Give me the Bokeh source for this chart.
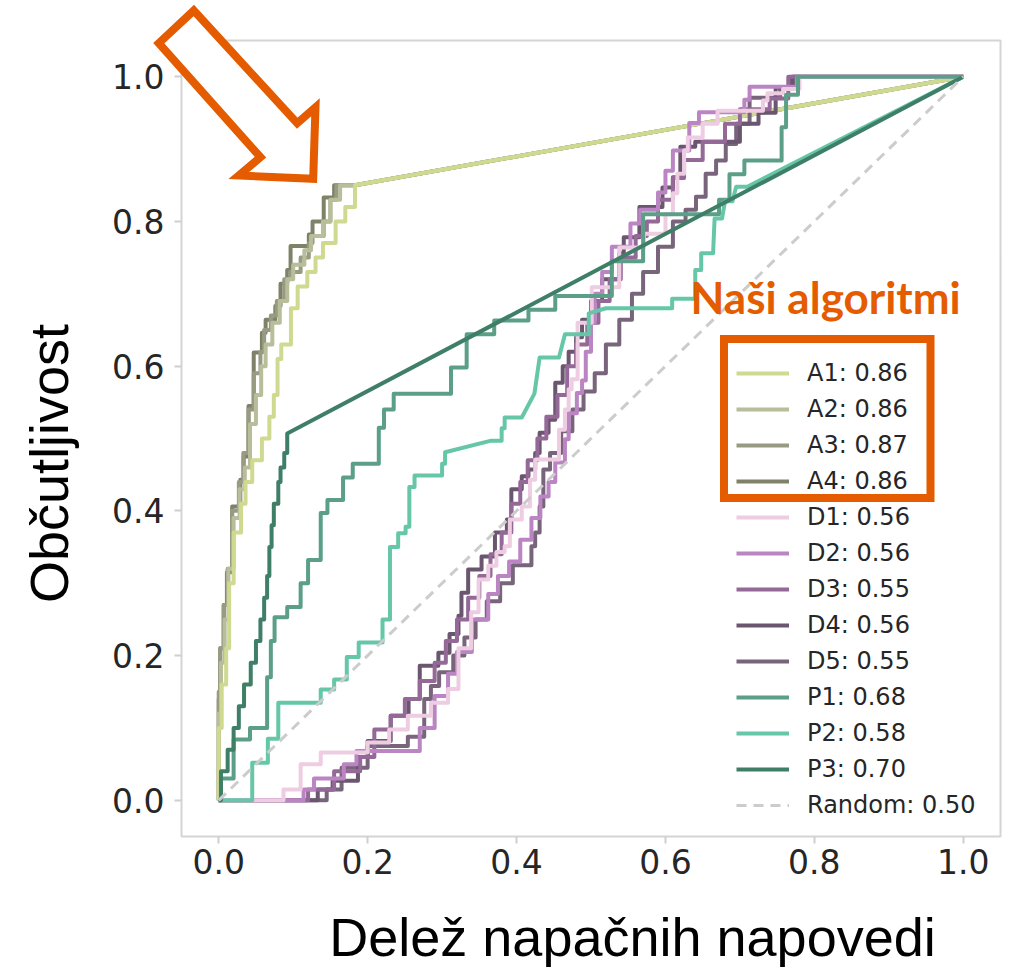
import math
from bokeh.plotting import figure
from bokeh.models import (Range1d, FixedTicker, PrintfTickFormatter, Legend, LegendItem,
                          Label, PolyAnnotation, BoxAnnotation)
from bokeh.embed import file_html
from bokeh.resources import INLINE

# ---------------- data: ROC step curves (x = step position, y = level reached) -------------
A1_x = [0.000, 0.004, 0.010, 0.014, 0.020, 0.030, 0.036, 0.045, 0.058, 0.068, 0.074, 0.079, 0.084, 0.097, 0.106, 0.119, 0.130, 0.140, 0.157, 0.170, 0.183]
A1_y = [0.100, 0.160, 0.210, 0.300, 0.370, 0.410, 0.440, 0.470, 0.500, 0.530, 0.560, 0.610, 0.630, 0.680, 0.710, 0.730, 0.750, 0.770, 0.800, 0.820, 0.850]
A2_x = [0.000, 0.003, 0.008, 0.013, 0.020, 0.028, 0.035, 0.042, 0.050, 0.057, 0.063, 0.072, 0.082, 0.092, 0.100, 0.115, 0.124, 0.140, 0.150, 0.163]
A2_y = [0.120, 0.190, 0.250, 0.320, 0.390, 0.430, 0.460, 0.520, 0.560, 0.600, 0.630, 0.660, 0.690, 0.720, 0.740, 0.760, 0.780, 0.800, 0.830, 0.850]
A3_x = [0.000, 0.002, 0.007, 0.012, 0.018, 0.027, 0.033, 0.040, 0.047, 0.056, 0.061, 0.070, 0.078, 0.088, 0.096, 0.110, 0.121, 0.126, 0.141, 0.150, 0.158]
A3_y = [0.150, 0.210, 0.270, 0.320, 0.400, 0.440, 0.480, 0.540, 0.590, 0.620, 0.650, 0.670, 0.690, 0.720, 0.730, 0.750, 0.770, 0.780, 0.800, 0.830, 0.850]
A4_x = [0.000, 0.002, 0.0065, 0.011, 0.018, 0.029, 0.0335, 0.040, 0.047, 0.058, 0.063, 0.076, 0.083, 0.092, 0.0965, 0.121, 0.126, 0.141, 0.155]
A4_y = [0.140, 0.210, 0.270, 0.315, 0.406, 0.443, 0.475, 0.545, 0.619, 0.646, 0.664, 0.683, 0.714, 0.733, 0.766, 0.782, 0.800, 0.833, 0.850]
A_end_x = [0.183, 1.0]
A_end_y = [0.850, 1.0]

D1_x = [0.087, 0.110, 0.137, 0.200, 0.229, 0.254, 0.285, 0.308, 0.322, 0.339, 0.349, 0.362, 0.373, 0.384, 0.391, 0.407, 0.418, 0.425, 0.457, 0.465, 0.470, 0.474, 0.482, 0.501, 0.538, 0.571, 0.600, 0.610, 0.616, 0.625, 0.630, 0.650, 0.670, 0.731, 0.737, 0.758, 0.780]
D1_y = [0.015, 0.050, 0.066, 0.080, 0.098, 0.117, 0.135, 0.154, 0.210, 0.260, 0.305, 0.324, 0.343, 0.351, 0.388, 0.406, 0.443, 0.471, 0.512, 0.540, 0.568, 0.582, 0.660, 0.709, 0.764, 0.783, 0.810, 0.839, 0.866, 0.898, 0.916, 0.935, 0.953, 0.967, 0.977, 0.983, 1.000]
D2_x = [0.114, 0.128, 0.168, 0.185, 0.270, 0.290, 0.308, 0.320, 0.340, 0.362, 0.375, 0.390, 0.405, 0.420, 0.432, 0.443, 0.452, 0.465, 0.470, 0.481, 0.488, 0.493, 0.500, 0.505, 0.515, 0.528, 0.553, 0.566, 0.590, 0.600, 0.610, 0.632, 0.645, 0.706, 0.713, 0.777]
D2_y = [0.015, 0.030, 0.050, 0.068, 0.100, 0.144, 0.175, 0.205, 0.250, 0.285, 0.310, 0.330, 0.360, 0.390, 0.420, 0.440, 0.467, 0.499, 0.535, 0.563, 0.580, 0.620, 0.660, 0.700, 0.730, 0.765, 0.797, 0.816, 0.840, 0.870, 0.898, 0.936, 0.951, 0.968, 0.986, 1.000]
D3_x = [0.120, 0.155, 0.190, 0.209, 0.231, 0.250, 0.270, 0.290, 0.305, 0.320, 0.335, 0.350, 0.365, 0.380, 0.393, 0.405, 0.415, 0.428, 0.440, 0.455, 0.468, 0.480, 0.495, 0.510, 0.525, 0.540, 0.560, 0.575, 0.590, 0.610, 0.625, 0.650, 0.680, 0.700, 0.740, 0.765]
D3_y = [0.015, 0.040, 0.060, 0.098, 0.117, 0.140, 0.165, 0.190, 0.220, 0.250, 0.280, 0.310, 0.340, 0.370, 0.410, 0.440, 0.470, 0.500, 0.530, 0.560, 0.600, 0.630, 0.660, 0.690, 0.720, 0.750, 0.780, 0.800, 0.830, 0.860, 0.885, 0.910, 0.935, 0.955, 0.970, 1.000]
D4_x = [0.133, 0.153, 0.187, 0.200, 0.231, 0.255, 0.270, 0.295, 0.310, 0.322, 0.326, 0.335, 0.353, 0.371, 0.387, 0.393, 0.407, 0.416, 0.425, 0.431, 0.443, 0.452, 0.462, 0.470, 0.480, 0.488, 0.500, 0.515, 0.538, 0.544, 0.565, 0.596, 0.610, 0.620, 0.640, 0.700, 0.725, 0.748, 0.770]
D4_y = [0.015, 0.027, 0.060, 0.082, 0.117, 0.140, 0.186, 0.204, 0.230, 0.255, 0.287, 0.319, 0.337, 0.370, 0.388, 0.430, 0.448, 0.457, 0.480, 0.508, 0.526, 0.577, 0.600, 0.620, 0.640, 0.664, 0.690, 0.720, 0.756, 0.778, 0.820, 0.847, 0.861, 0.903, 0.910, 0.935, 0.950, 0.985, 1.000]
D5_x = [0.145, 0.165, 0.200, 0.254, 0.276, 0.285, 0.296, 0.315, 0.330, 0.345, 0.360, 0.378, 0.395, 0.420, 0.425, 0.431, 0.436, 0.445, 0.460, 0.475, 0.490, 0.505, 0.520, 0.538, 0.555, 0.570, 0.590, 0.610, 0.627, 0.641, 0.654, 0.668, 0.681, 0.695, 0.713, 0.754, 0.772]
D5_y = [0.015, 0.045, 0.075, 0.088, 0.140, 0.158, 0.177, 0.200, 0.225, 0.250, 0.275, 0.300, 0.325, 0.351, 0.370, 0.406, 0.457, 0.480, 0.510, 0.540, 0.565, 0.590, 0.630, 0.664, 0.700, 0.730, 0.765, 0.800, 0.816, 0.834, 0.866, 0.884, 0.907, 0.935, 0.971, 0.985, 1.000]
D_end_x = [1.0]
D_end_y = [1.0]

P1_x = [0.003, 0.020, 0.042, 0.065, 0.070, 0.075, 0.092, 0.110, 0.120, 0.137, 0.146, 0.167, 0.180, 0.215, 0.222, 0.235, 0.312, 0.333, 0.370, 0.416, 0.452, 0.528, 0.570, 0.672, 0.686, 0.706, 0.756, 0.762, 0.778]
P1_y = [0.030, 0.084, 0.100, 0.170, 0.220, 0.253, 0.267, 0.300, 0.332, 0.397, 0.415, 0.446, 0.465, 0.515, 0.540, 0.562, 0.598, 0.644, 0.663, 0.678, 0.697, 0.745, 0.810, 0.830, 0.865, 0.884, 0.930, 0.975, 1.000]
P1_end_x = [1.0]
P1_end_y = [1.0]
P2_x = [0.045, 0.066, 0.080, 0.137, 0.155, 0.172, 0.188, 0.220, 0.230, 0.241, 0.251, 0.256, 0.263, 0.300, 0.304]
P2_y = [0.052, 0.085, 0.135, 0.153, 0.167, 0.198, 0.218, 0.250, 0.350, 0.369, 0.378, 0.433, 0.449, 0.465, 0.481]
P2_end_x = [0.366, 0.380, 0.380, 0.384, 0.384, 0.407, 0.424, 0.431, 0.457, 0.465, 0.497, 0.497, 0.520, 0.609, 0.609, 0.640, 0.640, 0.648, 0.648, 0.664, 0.666, 0.676, 0.680, 0.690, 0.695, 0.710, 1.0]
P2_end_y = [0.497, 0.497, 0.514, 0.514, 0.529, 0.529, 0.562, 0.612, 0.612, 0.644, 0.644, 0.673, 0.680, 0.680, 0.693, 0.693, 0.733, 0.733, 0.756, 0.756, 0.804, 0.804, 0.828, 0.828, 0.848, 0.848, 1.0]
P3_x = [0.003, 0.012, 0.020, 0.027, 0.034, 0.043, 0.050, 0.056, 0.061, 0.065, 0.068, 0.071, 0.074, 0.080, 0.083, 0.088, 0.092]
P3_y = [0.040, 0.070, 0.100, 0.130, 0.160, 0.190, 0.220, 0.250, 0.280, 0.310, 0.350, 0.380, 0.410, 0.440, 0.460, 0.480, 0.507]
P3_end_x = [1.0]
P3_end_y = [1.0]

R_x = [0.0, 1.0]
R_y = [0.0, 1.0]

labels = ["A1: 0.86", "A2: 0.86", "A3: 0.87", "A4: 0.86",
          "D1: 0.56", "D2: 0.56", "D3: 0.55", "D4: 0.56", "D5: 0.55",
          "P1: 0.68", "P2: 0.58", "P3: 0.70", "Random: 0.50"]
colors = ["#cfd98f", "#b8be9a", "#989b82", "#7f8269",
          "#eecde2", "#bb84c2", "#946897", "#6b5670", "#78657c",
          "#5b9f88", "#66c6a8", "#3f7f67", "#cccccc"]
tick_vals = [0.0, 0.2, 0.4, 0.6, 0.8, 1.0]

ORANGE = "#e55c00"
W, H = 1010, 969
# frame box of the axes in page pixels (left, right, top, bottom) and its data limits
FL, FR, FT, FB = 181, 1000, 40, 836
LO, HI = -0.05, 1.05


def stairs(sx, sy, ex, ey):
    xs = [0.0, sx[0]]
    ys = [0.0, 0.0]
    for i in range(len(sx)):
        xs.append(sx[i]); ys.append(sy[i])
        if i + 1 < len(sx):
            xs.append(sx[i + 1]); ys.append(sy[i])
    return xs + list(ex), ys + list(ey)


curves = [
    stairs(A1_x, A1_y, A_end_x[1:], A_end_y[1:]),
    stairs(A2_x, A2_y, A_end_x, A_end_y),
    stairs(A3_x, A3_y, A_end_x, A_end_y),
    stairs(A4_x, A4_y, A_end_x, A_end_y),
    stairs(D1_x, D1_y, D_end_x, D_end_y),
    stairs(D2_x, D2_y, D_end_x, D_end_y),
    stairs(D3_x, D3_y, D_end_x, D_end_y),
    stairs(D4_x, D4_y, D_end_x, D_end_y),
    stairs(D5_x, D5_y, D_end_x, D_end_y),
    stairs(P1_x, P1_y, P1_end_x, P1_end_y),
    stairs(P2_x, P2_y, P2_end_x, P2_end_y),
    stairs(P3_x, P3_y, P3_end_x, P3_end_y),
]

# the plotting frame covers the whole canvas; the visible "axes box" is drawn at LO..HI
sx = (FR - FL) / (HI - LO)
sy = (FB - FT) / (HI - LO)
x_range = Range1d(LO - FL / sx, LO + (W - FL) / sx)
y_range = Range1d(LO - (H - FB) / sy, HI + FT / sy)

p = figure(width=W, height=H, x_range=x_range, y_range=y_range,
           output_backend="svg", toolbar_location=None, min_border=0)
p.grid.visible = False
p.outline_line_color = None
p.background_fill_color = "white"
p.border_fill_color = "white"

for ax in (p.xaxis[0], p.yaxis[0]):
    ax.fixed_location = LO
    ax.ticker = FixedTicker(ticks=tick_vals)
    ax.formatter = PrintfTickFormatter(format="%.1f")
    ax.axis_line_color = None
    ax.major_tick_line_color = "#cfcfcf"
    ax.major_tick_line_width = 2
    ax.major_tick_out = 7
    ax.major_tick_in = 0
    ax.minor_tick_line_color = None
    ax.major_label_text_font = "DejaVu Sans"
    ax.major_label_text_font_size = "33px"
    ax.major_label_text_color = "#262626"
p.xaxis[0].major_label_standoff = 5
p.yaxis[0].major_label_standoff = 10

# axes box
p.add_layout(BoxAnnotation(left=LO, right=HI, bottom=LO, top=HI, fill_alpha=0,
                           line_color="#d4d4d4", line_alpha=1.0, line_width=2, level="underlay"))

# draw order: A4..A1, D5..D1, P1..P3 (lighter curves on top as in the reference)
order = [3, 2, 1, 0, 8, 7, 6, 5, 4, 9, 10, 11]
rmap = {}
for i in order:
    xs, ys = curves[i]
    rmap[i] = p.line(xs, ys, line_color=colors[i], line_width=4, line_join="round")
rr = p.line(R_x, R_y, line_color=colors[-1], line_width=3, line_dash="10 7")

items = [LegendItem(label=labels[i], renderers=[rmap[i]]) for i in range(12)]
items.append(LegendItem(label=labels[-1], renderers=[rr]))

legend = Legend(items=items, location=(736, H - 822.6), padding=0, margin=0, spacing=0,
                glyph_width=53, glyph_height=36, label_height=36, label_standoff=18,
                label_text_font="DejaVu Sans", label_text_font_size="24px",
                label_text_color="#262626", background_fill_alpha=0, border_line_alpha=0)
p.add_layout(legend, "center")

# axis titles (screen units: from the canvas bottom-left, y upwards; anchors at text middle)
p.add_layout(Label(x=632, y=H - 936, x_units="screen", y_units="screen",
                   text="Delež napačnih napovedi", text_font="Liberation Sans",
                   text_font_size="54px", text_color="black", text_align="center",
                   text_baseline="middle"))
p.add_layout(Label(x=48, y=H - 463, x_units="screen", y_units="screen", angle=math.pi / 2,
                   text="Občutljivost", text_font="Liberation Sans",
                   text_font_size="54px", text_color="black", text_align="center",
                   text_baseline="middle"))

# annotation: "Naši algoritmi" + box + arrow
p.add_layout(Label(x=690, y=H - 296, x_units="screen", y_units="screen", text="Naši algoritmi",
                   text_font="Lato", text_font_style="bold", text_font_size="44px",
                   text_color=ORANGE, text_align="left", text_baseline="middle"))
p.add_layout(BoxAnnotation(left=723.5, right=930, bottom=H - 497.4, top=H - 338.5,
                           left_units="screen", right_units="screen",
                           bottom_units="screen", top_units="screen",
                           fill_alpha=0, line_color=ORANGE, line_alpha=1.0, line_width=8,
                           line_join="miter"))

arrow_px = [193.3, 296.7, 315.0, 312.7, 238.3, 260.0, 158.3]
arrow_py = [10.0, 122.7, 106.7, 178.3, 175.0, 156.7, 42.7]
p.add_layout(PolyAnnotation(xs=arrow_px, ys=[H - v for v in arrow_py],
                            xs_units="screen", ys_units="screen",
                            fill_color="white", fill_alpha=1.0, line_color=ORANGE,
                            line_alpha=1.0, line_width=8, line_join="miter", level="overlay"))

open("out.html", "w").write(file_html(p, INLINE))
